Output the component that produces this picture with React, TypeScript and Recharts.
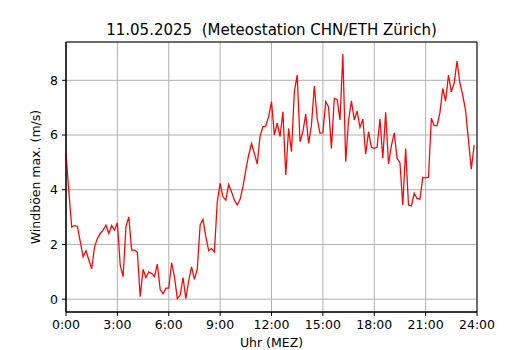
import React from 'react';
import { LineChart, Line, XAxis, YAxis, CartesianGrid, ReferenceArea } from 'recharts';

// 10-minute windgust maxima, 0:00 .. 23:50
const gusts = [
  5.33, 3.92, 2.64, 2.69, 2.66, 2.10, 1.55, 1.77, 1.43, 1.11, 1.91, 2.22,
  2.40, 2.52, 2.71, 2.40, 2.69, 2.52, 2.79, 1.24, 0.82, 2.64, 3.01, 1.79,
  1.79, 1.71, 0.09, 1.09, 0.79, 1.00, 0.94, 0.82, 1.28, 0.35, 0.20, 0.40,
  0.40, 1.33, 0.82, 0.02, 0.15, 0.79, 0.02, 0.69, 1.18, 0.72, 1.10, 2.71,
  2.91, 2.28, 1.77, 1.85, 1.73, 3.56, 4.23, 3.74, 3.62, 4.19, 3.92, 3.62,
  3.44, 3.65, 4.11, 4.72, 5.27, 5.69, 5.33, 4.94, 5.96, 6.30, 6.33, 6.67,
  7.22, 6.00, 6.43, 5.94, 6.85, 4.54, 6.24, 5.39, 7.58, 8.19, 5.75, 6.12,
  6.77, 5.69, 6.36, 7.79, 6.61, 6.06, 6.08, 7.22, 7.03, 5.51, 7.34, 7.30,
  6.55, 8.96, 5.02, 6.55, 7.25, 6.55, 6.88, 6.28, 6.58, 5.30, 6.12, 5.55,
  5.51, 5.55, 6.58, 5.15, 6.83, 4.94, 5.60, 6.08, 5.15, 4.99, 3.44, 5.51,
  3.44, 3.41, 3.87, 3.68, 3.65, 4.45, 4.44, 4.45, 6.61, 6.34, 6.34, 6.81,
  7.70, 7.24, 8.19, 7.58, 7.89, 8.70, 7.91, 7.46, 6.89, 5.82, 4.75, 5.63,
];

const hourTicks = [0, 3, 6, 9, 12, 15, 18, 21, 24];
const gustTicks = [0, 2, 4, 6, 8];
const yDomain = [-0.47, 9.4];

const title = '11.05.2025  (Meteostation CHN/ETH Zürich)';
const yLabel = 'Windböen max. (m/s)';
const xLabel = 'Uhr (MEZ)';

const data = gusts.map((v, i) => ({ t: i / 6, v }));

const font = '"DejaVu Sans", sans-serif';
const tickStyle = { fontSize: 12.5, fill: '#000', fontFamily: font };

export default function App() {
  return (
    <div style={{ position: 'absolute', left: 0, top: 0, width: 530, height: 350, overflow: 'hidden', background: '#fff', fontFamily: font }}>
      <div style={{ position: 'absolute', left: 66, width: 411, top: 21, textAlign: 'center', fontSize: 15, whiteSpace: 'pre' }}>
        {title}
      </div>
      <div
        style={{
          position: 'absolute', left: 35.5, top: 177, fontSize: 12.5, lineHeight: 1, whiteSpace: 'nowrap',
          transform: 'translate(-50%, -50%) rotate(-90deg)',
        }}
      >
        {yLabel}
      </div>
      <div style={{ position: 'absolute', left: 66, width: 411, top: 336.5, height: 12.5, lineHeight: 1, textAlign: 'center', fontSize: 12.5 }}>
        {xLabel}
      </div>
      <LineChart width={530} height={350} data={data} margin={{ top: 42, right: 53, left: 0, bottom: 0 }}>
        <CartesianGrid stroke="#b0b0b0" strokeWidth={1} />
        <XAxis
          dataKey="t"
          type="number"
          domain={[0, 24]}
          ticks={hourTicks}
          tickFormatter={(h) => `${h}:00`}
          interval={0}
          height={38}
          tick={tickStyle}
          tickSize={4}
          tickMargin={4}
          stroke="#000"
          tickLine={{ stroke: '#000' }}
        />
        <YAxis
          type="number"
          domain={yDomain}
          ticks={gustTicks}
          interval={0}
          width={66}
          tick={tickStyle}
          tickSize={4}
          tickMargin={4}
          stroke="#000"
          tickLine={{ stroke: '#000' }}
        />
        <Line dataKey="v" stroke="#ff0000" strokeWidth={1.25} dot={false} type="linear" isAnimationActive={false} />
        <ReferenceArea x1={0} x2={24} y1={yDomain[0]} y2={yDomain[1]} fill="none" stroke="#000" strokeWidth={1} ifOverflow="visible" />
      </LineChart>
    </div>
  );
}
